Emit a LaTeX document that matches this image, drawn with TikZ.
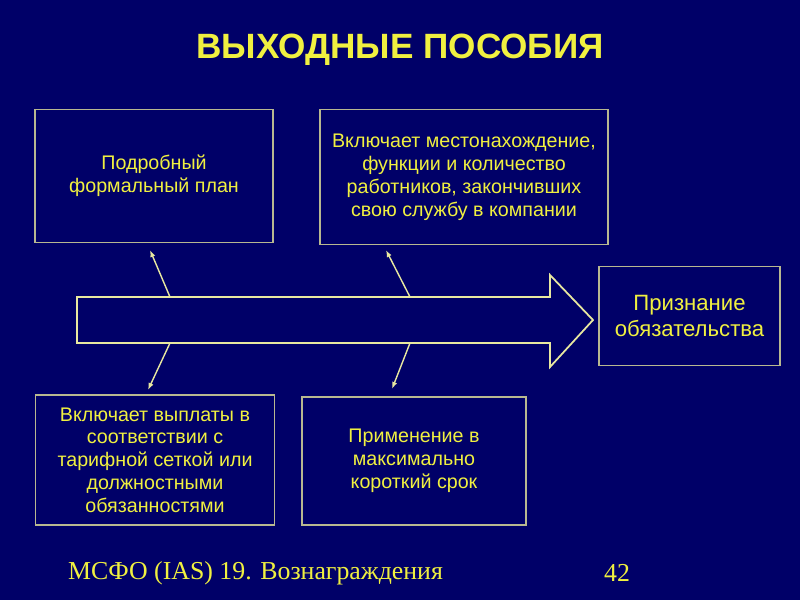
\documentclass[tikz,border=0pt]{standalone}
\usepackage{fontspec}
\setmainfont{Liberation Sans}
\newfontfamily\footfont{Liberation Serif}
\usetikzlibrary{arrows.meta}
\definecolor{navy}{HTML}{000068}
\definecolor{gold}{HTML}{F0F040}
\definecolor{frame}{HTML}{B8B890}
\definecolor{pale}{HTML}{E8E8A0}
\begin{document}
\begin{tikzpicture}[x=0.02cm,y=-0.02cm,
            info box/.style={draw=frame,line width=1pt,text=gold,align=center,
              font=\fontsize{11.2}{13}\selectfont,inner sep=0pt},
            link/.style={draw=pale,line width=0.8pt,-{Latex[length=4pt,width=3pt]}},
            ]
            \fill[navy] (0,0) rectangle (800,600);
            \node[font=\bfseries\fontsize{20}{24}\selectfont,text=gold] (title) at (400,50) {ВЫХОДНЫЕ ПОСОБИЯ};

            \node[info box,minimum width=238*0.02cm,minimum height=133*0.02cm] (plan) at (154,176) {Подробный\\формальный план};
            \node[info box,minimum width=288*0.02cm,minimum height=135*0.02cm] (staff) at (464,177) {Включает местонахождение,\\функции и количество\\работников, закончивших\\свою службу в компании};
            \node[info box,minimum width=181*0.02cm,minimum height=99*0.02cm,font=\fontsize{12.6}{15}\selectfont] (result) at (689.5,316) {Признание\\обязательства};
            \node[info box,minimum width=239*0.02cm,minimum height=130*0.02cm] (pay) at (155,460) {Включает выплаты в\\соответствии с\\тарифной сеткой или\\должностными\\обязанностями};
            \node[info box,minimum width=224*0.02cm,minimum height=128*0.02cm] (term) at (414,461) {Применение в\\максимально\\короткий срок};

            \draw[pale,line width=1pt,fill=navy] (77,297) -- (550,297) -- (550,275) -- (593,320) -- (550,367) -- (550,343) -- (77,343) -- cycle;
            \coordinate (a1) at (170,297);
            \coordinate (a2) at (170,343);
            \coordinate (a3) at (410,297);
            \coordinate (a4) at (410,343);

            \draw[link] (a1) -- (150,250);
            \draw[link] (a2) -- (148,390);
            \draw[link] (a3) -- (386,250);
            \draw[link] (a4) -- (392,389);

            \node[font=\footfont\fontsize{14.7}{17}\selectfont,text=gold,anchor=west] (foot) at (62,573) {МСФО (IAS) 19. Вознаграждения};
            \node[font=\footfont\fontsize{14.7}{17}\selectfont,text=gold] (page) at (617,573) {42};
        \end{tikzpicture}
\end{document}
